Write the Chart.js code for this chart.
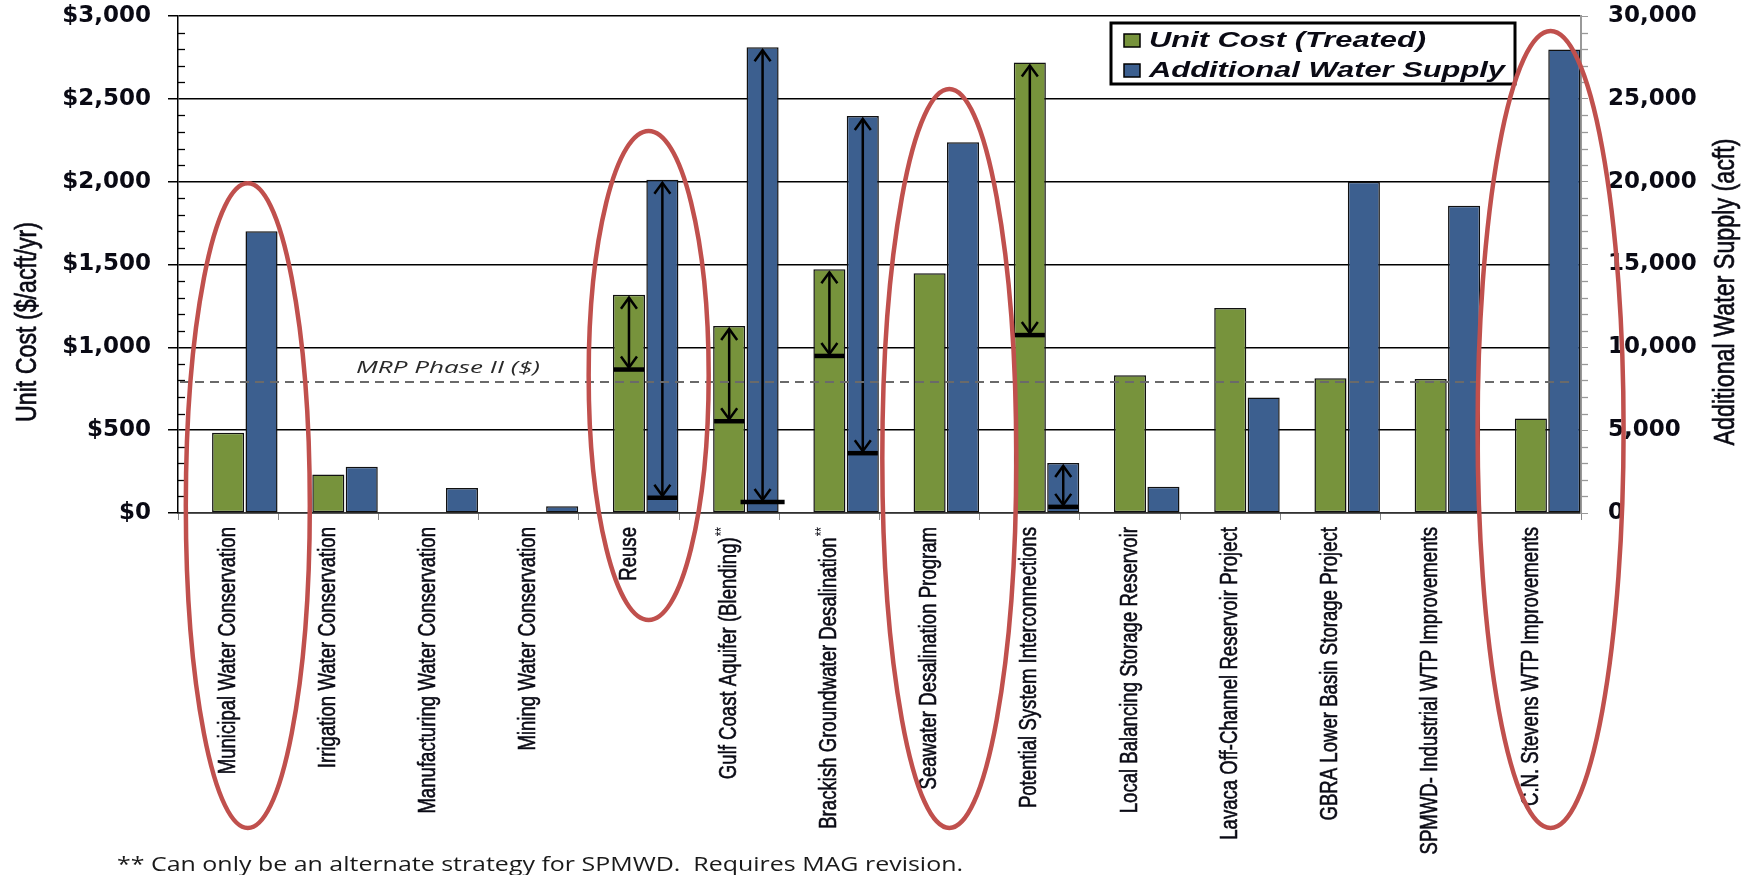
<!DOCTYPE html>
<html>
<head>
<meta charset="utf-8">
<script src="https://cdn.jsdelivr.net/npm/chart.js@4.4.1/dist/chart.umd.min.js"></script>
<style>
  html, body { margin: 0; padding: 0; background: #fff; }
  #wrap { width: 1752px; height: 875px; position: relative; }
</style>
</head>
<body>
<div id="wrap"><canvas id="canvas1"></canvas></div>
<script>
"use strict";

// categories ("**" is drawn as a superscript mark)
const categories = [
    "Municipal Water Conservation",
    "Irrigation Water Conservation",
    "Manufacturing Water Conservation",
    "Mining Water Conservation",
    "Reuse",
    "Gulf Coast Aquifer (Blending)**",
    "Brackish Groundwater Desalination**",
    "Seawater Desalination Program",
    "Potential System Interconnections",
    "Local Balancing Storage Reservoir",
    "Lavaca Off-Channel Reservoir Project",
    "GBRA Lower Basin Storage Project",
    "SPMWD- Industrial WTP Improvements",
    "C.N. Stevens WTP Improvements",
];

// series ($/acft/yr and acft)
const unitCost = [485, 232, null, null, 1318, 1129, 1471, 1447, 2719, 831, 1237, 813, 809, 571];
const waterSupply = [17000, 2790, 1510, 410, 20110, 28120, 23970, 22380, 3020, 1590, 6970, 20000, 18550, 27980];

// range arrows drawn down from the bar tops
const costArrowLow = [null, null, null, null, 866, 554, 948, null, 1074, null, null, null, null, null];
const supplyArrowLow = [null, null, null, null, 920, 670, 3610, null, 370, null, null, null, null, null];

// reference line
const mrpPhaseII = 790;
const mrpLabel = "MRP Phase II ($)";

// axis texts
const costTitle = "Unit Cost ($/acft/yr)";
const supplyTitle = "Additional Water Supply (acft)";
const footnote = "** Can only be an alternate strategy for SPMWD.  Requires MAG revision.";

// red rings (category index, top value in $, px below axis, half width)
const rings = [
    { i: 0, top: 1990, below: 315, rx: 62 },
    { i: 4, top: 2306, below: 107, rx: 60 },
    { i: 7, top: 2559, below: 315, rx: 67 },
    { i: 13, top: 2909, below: 315, rx: 73 },
];

const green = "#77933C";
const blue = "#3C5F8F";
const ink = "#0a0a14";

function stretchText(ctx, text, x, y, font, width, align)
{
    ctx.save();
    ctx.font = font;
    let m = ctx.measureText(text).width;
    ctx.translate(x, y);
    ctx.scale(width / m, 1);
    ctx.textAlign = align || "left";
    ctx.fillText(text, 0, 0);
    ctx.restore();
}

function sideTitle(ctx, text, cx, cy, font, len, cross)
{
    ctx.save();
    ctx.font = font;
    let m = ctx.measureText(text).width;
    ctx.translate(cx, cy);
    ctx.rotate(-Math.PI / 2);
    ctx.scale(len / m, cross);
    ctx.textAlign = "center";
    ctx.textBaseline = "middle";
    ctx.strokeStyle = ctx.fillStyle;
    ctx.lineWidth = 0.5;
    ctx.fillText(text, 0, 0);
    ctx.strokeText(text, 0, 0);
    ctx.restore();
}

function rangeArrow(ctx, x, yTop, yLow, w)
{
    ctx.save();
    ctx.strokeStyle = "#000";
    ctx.lineWidth = 2.5;
    let t = yTop + 3, b = yLow - 2;
    ctx.beginPath(); ctx.moveTo(x, t); ctx.lineTo(x, b); ctx.stroke();
    ctx.beginPath(); ctx.moveTo(x - 8, t + 11); ctx.lineTo(x, t); ctx.lineTo(x + 8, t + 11); ctx.stroke();
    ctx.beginPath(); ctx.moveTo(x - 8, b - 11); ctx.lineTo(x, b); ctx.lineTo(x + 8, b - 11); ctx.stroke();
    ctx.lineWidth = 4.5;
    ctx.beginPath(); ctx.moveTo(x - w / 2, yLow); ctx.lineTo(x + w / 2, yLow); ctx.stroke();
    ctx.restore();
}

const annot = {
    id: "annot",
    afterDatasetsDraw(chart)
    {
        let ctx = chart.ctx;
        let a = chart.chartArea;
        let x = chart.scales.x;
        let y = chart.scales.y;
        let y1 = chart.scales.y1;

        // minor ticks
        ctx.save();
        ctx.lineWidth = 1.3;
        ctx.strokeStyle = "#000";
        for (let v = 100; v < 3000; v += 100)
        {
            if (v % 500 == 0) continue;
            let py = Math.round(y.getPixelForValue(v)) + 0.5;
            ctx.beginPath(); ctx.moveTo(a.left, py); ctx.lineTo(a.left + 7, py); ctx.stroke();
        }
        ctx.strokeStyle = "#999";
        for (let v = 1000; v < 30000; v += 1000)
        {
            if (v % 5000 == 0) continue;
            let py = Math.round(y1.getPixelForValue(v)) + 0.5;
            ctx.beginPath(); ctx.moveTo(a.right, py); ctx.lineTo(a.right + 7, py); ctx.stroke();
        }
        ctx.restore();

        // category labels (condensed look, superscript **)
        ctx.save();
        ctx.fillStyle = ink;
        ctx.strokeStyle = ink;
        ctx.lineWidth = 0.45;
        ctx.textBaseline = "middle";
        for (let i = 0; i < categories.length; i++)
        {
            let txt = categories[i];
            let sup = "";
            if (txt.endsWith("**")) { sup = "**"; txt = txt.slice(0, -2); }
            ctx.save();
            ctx.translate(x.getPixelForTick(i), a.bottom + 14);
            ctx.rotate(-Math.PI / 2);
            ctx.scale(1, 1.3);
            let off = 0;
            if (sup)
            {
                ctx.font = "12px 'Liberation Sans'";
                ctx.textAlign = "right";
                ctx.fillText(sup, 0, -5);
                off = ctx.measureText(sup).width + 1;
            }
            ctx.font = "18.6px 'Liberation Sans'";
            ctx.textAlign = "right";
            ctx.fillText(txt, -off, 0);
            ctx.strokeText(txt, -off, 0);
            ctx.restore();
        }
        ctx.restore();

        // arrows
        let mg = chart.getDatasetMeta(1).data;
        let mb = chart.getDatasetMeta(2).data;
        for (let i = 0; i < categories.length; i++)
        {
            if (costArrowLow[i] != null)
            {
                rangeArrow(ctx, mg[i].x, y.getPixelForValue(unitCost[i]), y.getPixelForValue(costArrowLow[i]), mg[i].width - 2);
            }
            if (supplyArrowLow[i] != null)
            {
                let w = i == 5 ? mb[i].width + 12 : mb[i].width - 2;
                rangeArrow(ctx, mb[i].x, y1.getPixelForValue(waterSupply[i]), y1.getPixelForValue(supplyArrowLow[i]), w);
            }
        }

        // MRP dashed line
        let py = y.getPixelForValue(mrpPhaseII);
        ctx.save();
        ctx.strokeStyle = "#6a6a6a";
        ctx.lineWidth = 2;
        ctx.setLineDash([9, 6]);
        ctx.beginPath(); ctx.moveTo(a.left + 2, py); ctx.lineTo(a.right - 7, py); ctx.stroke();
        ctx.restore();
        ctx.fillStyle = "#2a2a2a";
        stretchText(ctx, mrpLabel, a.left + 178, py - 9, "italic 17px 'Open Sans'", 184);
    },
    afterDraw(chart)
    {
        let ctx = chart.ctx;
        let a = chart.chartArea;
        let y = chart.scales.y;

        // legend box
        let lx = a.right - 470, ly = a.top + 7, lw = 404, lh = 61;
        ctx.save();
        ctx.fillStyle = "#fff";
        ctx.fillRect(lx, ly, lw, lh);
        ctx.strokeStyle = "#000";
        ctx.lineWidth = 3;
        ctx.strokeRect(lx, ly, lw, lh);
        let items = [[chart.data.datasets[1].label, green, ly + 24], [chart.data.datasets[2].label, blue, ly + 54]];
        ctx.font = "bold italic 22px 'Liberation Sans'";
        let sx = 356 / ctx.measureText(items[1][0]).width;
        for (let it of items)
        {
            ctx.fillStyle = it[1];
            ctx.fillRect(lx + 13, it[2] - 13, 16, 13);
            ctx.lineWidth = 1.5;
            ctx.strokeRect(lx + 13, it[2] - 13, 16, 13);
            ctx.fillStyle = ink;
            ctx.save();
            ctx.translate(lx + 38, it[2]);
            ctx.scale(sx, 1);
            ctx.fillText(it[0], 0, 0);
            ctx.restore();
        }
        ctx.restore();

        // axis titles
        ctx.fillStyle = ink;
        sideTitle(ctx, costTitle, 28, 322, "23px 'Liberation Sans'", 200, 1.3);
        sideTitle(ctx, supplyTitle, 1726, 292, "23px 'Liberation Sans'", 307, 1.3);

        // footnote
        ctx.fillStyle = "#1a1a1a";
        stretchText(ctx, footnote, 117, 871, "20px 'Open Sans'", 846);

        // red rings
        let mg = chart.getDatasetMeta(1).data;
        let mb = chart.getDatasetMeta(2).data;
        ctx.save();
        ctx.strokeStyle = "#C0504D";
        ctx.lineWidth = 4.5;
        for (let r of rings)
        {
            let cx = (mg[r.i].x + mb[r.i].x) / 2 + 3;
            let top = y.getPixelForValue(r.top);
            let bot = a.bottom + r.below;
            ctx.beginPath();
            ctx.ellipse(cx, (top + bot) / 2, r.rx, (bot - top) / 2, 0, 0, Math.PI * 2);
            ctx.stroke();
        }
        ctx.restore();
    },
};

let canvas1 = document.querySelector("#canvas1");

let opts = {
    type: "bar",
    data: {
        labels: categories,
        datasets: [
            { label: "", data: categories.map(x => null), yAxisID: "y" },
            { label: "Unit Cost (Treated)", data: unitCost, yAxisID: "y", backgroundColor: green, borderColor: "#111", borderWidth: 1.5, borderSkipped: false },
            { label: "Additional Water Supply", data: waterSupply, yAxisID: "y1", backgroundColor: blue, borderColor: "#111", borderWidth: 1.5, borderSkipped: false },
        ],
    },
    options: {
        responsive: true,
        maintainAspectRatio: false,
        animation: false,
        layout: { padding: { top: 16, left: 0, right: 0, bottom: 0 } },
        datasets: { bar: { categoryPercentage: 1.0, barPercentage: 0.96 } },
        plugins: { legend: { display: false }, tooltip: { enabled: false } },
        scales: {
            x: {
                offset: true,
                grid: { offset: true, drawOnChartArea: false, tickLength: 7, color: "#888" },
                border: { color: "#333", width: 1.5 },
                ticks: {
                    autoSkip: false, minRotation: 90, maxRotation: 90, padding: 6,
                    color: "rgba(0,0,0,0)", font: { family: "'Liberation Sans'", size: 18 },
                },
                afterFit(s) { s.height = 362; s.paddingLeft = 0; s.paddingRight = 0; },
            },
            y: {
                position: "left",
                min: 0, max: 3000,
                grid: { color: "#000", lineWidth: 1.5, tickLength: 10 },
                border: { color: "#000", width: 1.5 },
                ticks: {
                    stepSize: 500, padding: 17, color: ink,
                    font: { family: "'DejaVu Sans'", size: 23, weight: "bold" },
                    callback: v => "$" + v.toLocaleString("en-US"),
                },
                afterFit(s) { s.width = 178; s.paddingTop = 0; s.paddingBottom = 0; },
            },
            y1: {
                position: "right",
                min: 0, max: 30000,
                grid: { drawOnChartArea: false, color: "#999", tickLength: 7 },
                border: { color: "#999", width: 2 },
                ticks: {
                    stepSize: 5000, padding: 20, color: ink,
                    font: { family: "'DejaVu Sans'", size: 23, weight: "bold" },
                    callback: v => v.toLocaleString("en-US"),
                },
                afterFit(s) { s.width = 171; s.paddingTop = 0; s.paddingBottom = 0; },
            },
        },
    },
    plugins: [annot],
};

let chart1 = new Chart(canvas1, opts);
</script>
</body>
</html>
